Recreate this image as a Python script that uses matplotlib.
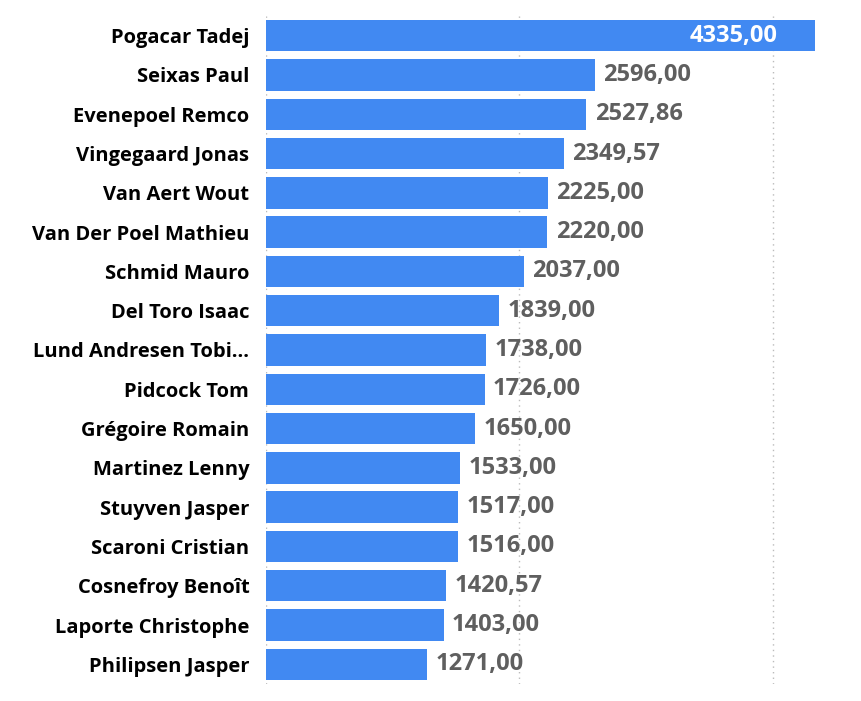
import matplotlib
matplotlib.use("Agg")
import matplotlib.pyplot as plt

names = ["Pogacar Tadej","Seixas Paul","Evenepoel Remco","Vingegaard Jonas","Van Aert Wout",
         "Van Der Poel Mathieu","Schmid Mauro","Del Toro Isaac","Lund Andresen Tobi...","Pidcock Tom",
         "Grégoire Romain","Martinez Lenny","Stuyven Jasper","Scaroni Cristian","Cosnefroy Benoît",
         "Laporte Christophe","Philipsen Jasper"]
values = [4335.00,2596.00,2527.86,2349.57,2225.00,2220.00,2037.00,1839.00,1738.00,1726.00,
          1650.00,1533.00,1517.00,1516.00,1420.57,1403.00,1271.00]

fig = plt.figure(figsize=(8.62,7.01), dpi=100)
ax = fig.add_axes([266/862, 17/701, 556/862, 668/701])
y = list(range(len(names)))
ax.barh(y, values, height=0.8, color="#4189F2")
ax.set_ylim(len(names)-0.5, -0.5)
ax.set_xlim(0, 4335*1.012)
for v in (0, 2000, 4000):
    ax.axvline(v, color="#BBBBBB", linestyle=(0,(1,3)), linewidth=1, zorder=0)
for s in ax.spines.values():
    s.set_visible(False)
ax.set_xticks([])
ax.set_yticks(y)
ax.set_yticklabels(names, fontsize=14.5, fontweight="bold", family=["Open Sans","DejaVu Sans"])
ax.tick_params(axis="y", length=0, pad=12)
for i, v in enumerate(values):
    txt = f"{v:.2f}".replace(".", ",")
    if i == 0:
        ax.text(v - 320/4.4*0 - 300, i, txt, ha="right", va="center", color="white", fontsize=17,
                fontweight="bold", family=["Open Sans","DejaVu Sans"]) if False else \
        ax.text(v - 300, i, txt, ha="right", va="center", color="white", fontsize=17,
                fontweight="bold", family=["Open Sans","DejaVu Sans"])
    else:
        ax.text(v + 65, i, txt, ha="left", va="center", color="#5F5F5F", fontsize=17,
                fontweight="bold", family=["Open Sans","DejaVu Sans"])
fig.savefig("out.png", dpi=100)
